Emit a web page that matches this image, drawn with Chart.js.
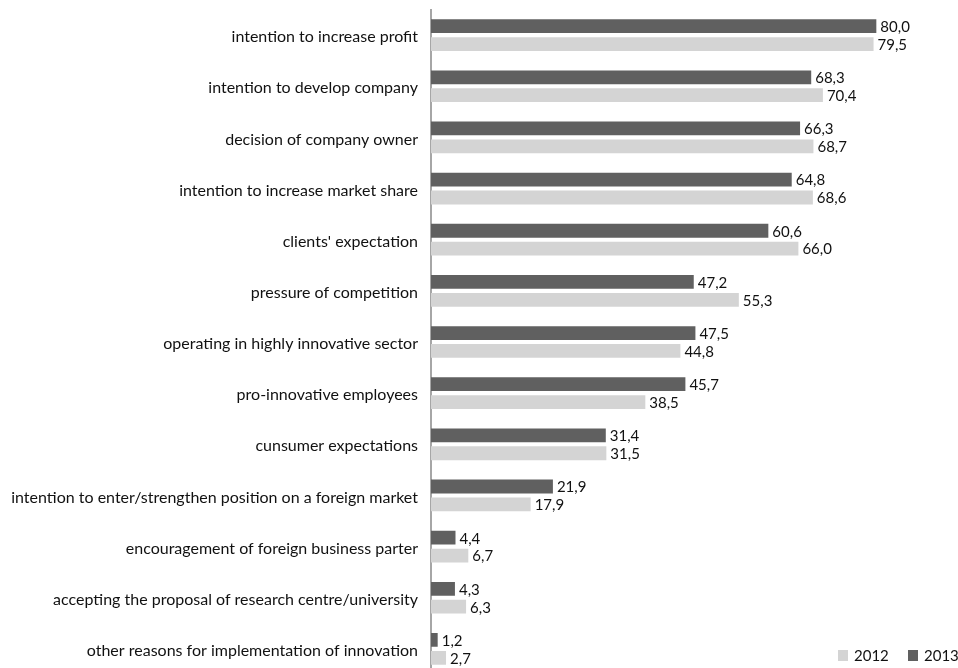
<!DOCTYPE html>
<html><head><meta charset="utf-8">
<script src="https://cdn.jsdelivr.net/npm/chart.js@4.4.1/dist/chart.umd.min.js"></script>
<style>html,body{margin:0;padding:0;overflow:hidden;background:#fff}#wrap{width:958px;height:680px}</style>
</head><body><div id="wrap"><canvas id="c" width="958" height="680"></canvas></div>
<script>
const categories = [
  "intention to increase profit",
  "intention to develop company",
  "decision of company owner",
  "intention to increase market share",
  "clients' expectation",
  "pressure of competition",
  "operating in highly innovative sector",
  "pro-innovative employees",
  "cunsumer expectations",
  "intention to enter/strengthen position on a foreign market",
  "encouragement of foreign business parter",
  "accepting the proposal of research centre/university",
  "other reasons for implementation of innovation"
];
const values2013 = [80.0, 68.3, 66.3, 64.8, 60.6, 47.2, 47.5, 45.7, 31.4, 21.9, 4.4, 4.3, 1.2];
const values2012 = [79.5, 70.4, 68.7, 68.6, 66.0, 55.3, 44.8, 38.5, 31.5, 17.9, 6.7, 6.3, 2.7];
const seriesNames = ["2013", "2012"];
const DARK = "#606060", LIGHT = "#d4d4d4";
const FONT = "Lato, 'Open Sans', sans-serif";

const valueLabels = {
  id: 'valueLabels',
  afterDatasetsDraw(chart) {
    const ctx = chart.ctx;
    ctx.save();
    ctx.font = "15px " + FONT;
    ctx.fillStyle = "#111";
    ctx.textAlign = "left";
    ctx.textBaseline = "middle";
    chart.data.datasets.forEach((ds, di) => {
      chart.getDatasetMeta(di).data.forEach((bar, i) => {
        ctx.fillText(ds.data[i].toFixed(1).replace('.', ','), bar.x + 4, bar.y + 1);
      });
    });
    ctx.restore();
  }
};
const customLegend = {
  id: 'customLegend',
  afterDraw(chart) {
    const ctx = chart.ctx;
    ctx.save();
    ctx.font = "15px " + FONT;
    ctx.textBaseline = "middle";
    ctx.textAlign = "left";
    const items = [[seriesNames[1], LIGHT, 838], [seriesNames[0], DARK, 908]];
    items.forEach(([t, col, x]) => {
      ctx.fillStyle = col;
      ctx.fillRect(x, 650, 10, 11);
      ctx.fillStyle = "#111";
      ctx.fillText(t, x + 16, 656);
    });
    ctx.restore();
  }
};

new Chart(document.getElementById('c'), {
  type: 'bar',
  data: {
    labels: categories,
    datasets: [
      { label: seriesNames[0], data: values2013, backgroundColor: DARK },
      { label: seriesNames[1], data: values2012, backgroundColor: LIGHT }
    ]
  },
  options: {
    indexAxis: 'y',
    responsive: false,
    animation: false,
    devicePixelRatio: 1,
    categoryPercentage: 0.70,
    barPercentage: 0.77,
    layout: { padding: { left: 0, right: 26, top: 9.5, bottom: 5.5 } },
    plugins: { legend: { display: false }, tooltip: { enabled: false } },
    scales: {
      x: { display: false, min: 0, max: 90 },
      y: {
        afterFit(s) { s.width = 431; s.paddingTop = 0; s.paddingBottom = 0; },
        grid: { display: false, drawTicks: false },
        border: { display: true, color: '#a6a6a6', width: 2 },
        ticks: { color: '#111', padding: 13, labelOffset: 2, font: { family: FONT, size: 16 } }
      }
    }
  },
  plugins: [valueLabels, customLegend]
});
</script></body></html>
